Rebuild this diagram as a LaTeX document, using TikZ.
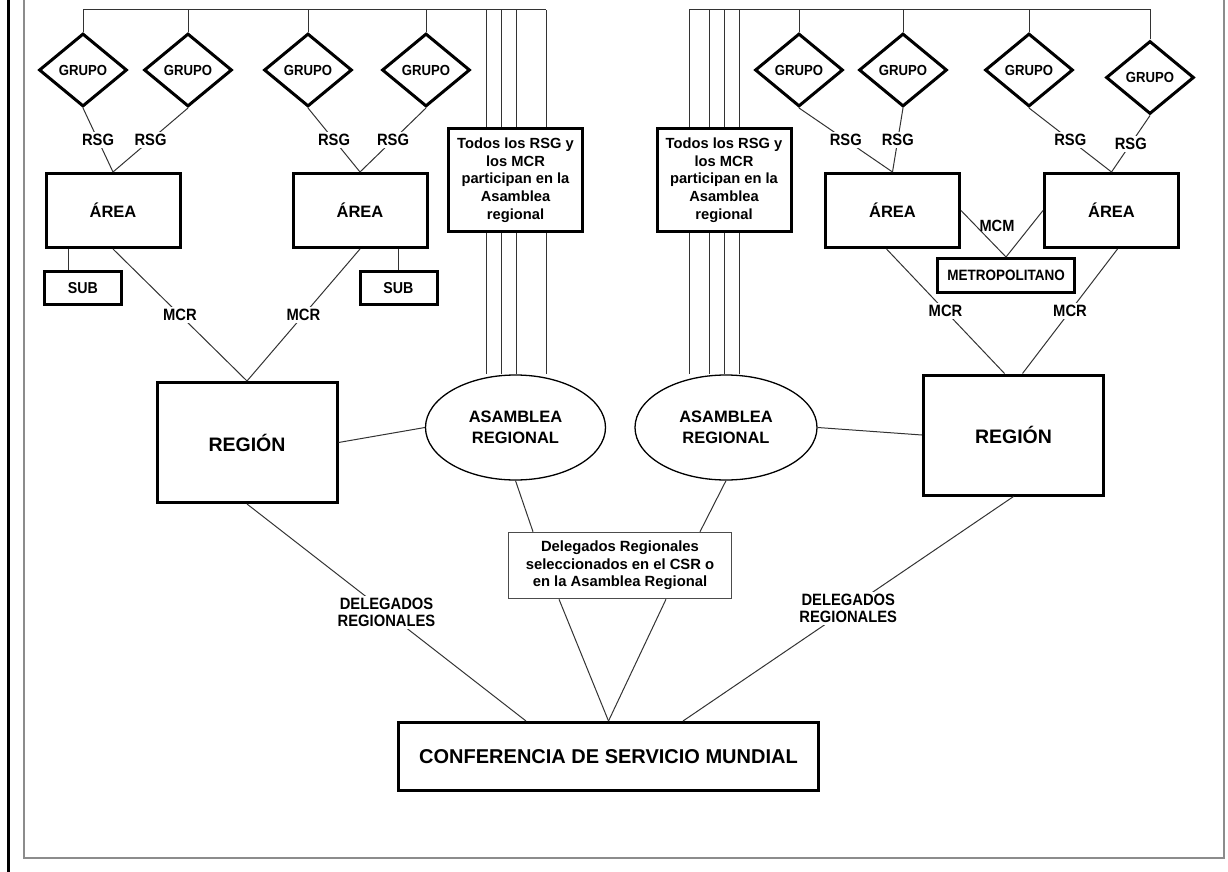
\documentclass[tikz,border=0pt]{standalone}
\usepackage{fontspec}
\setmainfont{Liberation Sans}
\newfontfamily\estrecha[FakeStretch=0.9]{Liberation Sans}
\usetikzlibrary{shapes.geometric}

\tikzset{
  grupo/.style={diamond, draw, line width=3pt, minimum width=88pt, minimum height=73pt,
    inner sep=0pt, fill=white, font=\estrecha\bfseries\fontsize{14.6}{16}\selectfont},
  caja/.style={rectangle, draw, line width=3pt, inner sep=0pt, fill=white, align=center},
  area/.style={caja, minimum width=134pt, minimum height=74pt, font=\bfseries\fontsize{16.5}{18}\selectfont},
  sub/.style={caja, minimum width=77pt, minimum height=33pt, font=\estrecha\bfseries\fontsize{15.8}{17}\selectfont},
  todos/.style={caja, minimum width=134pt, minimum height=103pt, font=\bfseries\fontsize{14.7}{17.7}\selectfont},
  region/.style={caja, minimum width=180pt, minimum height=120pt, font=\bfseries\fontsize{19.5}{22}\selectfont},
  asamblea/.style={ellipse, draw, line width=1.3pt, minimum width=180pt, minimum height=105pt,
    inner sep=0pt, fill=white, align=center, font=\bfseries\fontsize{16.5}{20.5}\selectfont},
  linea/.style={draw=black!80, line width=1pt},
  etiq/.style={fill=white, inner sep=2pt, align=center, font=\estrecha\bfseries\fontsize{16.4}{17}\selectfont},
}

\begin{document}
\begin{tikzpicture}[x=1pt,y=-1pt]
  \useasboundingbox (0,0) rectangle (1228,872);
  % page frame
  \draw[line width=3pt] (8,0) -- (8,872);
  \draw[black!45, line width=1.5pt] (24,0) -- (24,858) -- (1224,858) -- (1224,0);

  % left half
  \node[grupo] (g1) at (83,70) {GRUPO};
  \node[grupo] (g2) at (188,70) {GRUPO};
  \node[grupo] (g3) at (308,70) {GRUPO};
  \node[grupo] (g4) at (426,70) {GRUPO};
  \node[area] (a1) at (113,210.5) {ÁREA};
  \node[area] (a2) at (360,210.5) {ÁREA};
  \node[sub] (s1) at (83,288) {SUB};
  \node[sub] (s2) at (398.5,288) {SUB};
  \node[todos] (todos1) at (515.5,180) {Todos los RSG y\\los MCR\\participan en la\\Asamblea\\regional};
  \node[region] (reg1) at (247,442.5) {REGIÓN};
  \node[asamblea] (asam1) at (515.5,427.5) {ASAMBLEA\\REGIONAL};

  % right half
  \node[grupo] (g5) at (799,70) {GRUPO};
  \node[grupo] (g6) at (903,70) {GRUPO};
  \node[grupo] (g7) at (1029,70) {GRUPO};
  \node[grupo] (g8) at (1150,77.5) {GRUPO};
  \node[area] (a3) at (892.5,210.5) {ÁREA};
  \node[area] (a4) at (1111.5,210.5) {ÁREA};
  \node[caja, minimum width=137pt, minimum height=34pt, font=\estrecha\bfseries\fontsize{15}{16}\selectfont]
    (metro) at (1006,275.5) {METROPOLITANO};
  \node[todos] (todos2) at (724,180) {Todos los RSG y\\los MCR\\participan en la\\Asamblea\\regional};
  \node[region] (reg2) at (1013.5,435) {REGIÓN};
  \node[asamblea, minimum width=182pt] (asam2) at (726,427.5) {ASAMBLEA\\REGIONAL};

  % bottom
  \node[rectangle, draw=black!70, line width=1.5pt, minimum width=223pt, minimum height=66pt,
    inner sep=0pt, align=center, font=\bfseries\fontsize{14.8}{17.5}\selectfont]
    (dele) at (620,565.5) {Delegados Regionales\\seleccionados en el CSR o\\en la Asamblea Regional};
  \node[caja, minimum width=420pt, minimum height=68pt, font=\bfseries\fontsize{20}{24}\selectfont]
    (csm) at (608.5,756.5) {CONFERENCIA DE SERVICIO MUNDIAL};

  % buses on top
  \coordinate (busL) at (546,10);
  \coordinate (busR) at (689,10);
  \draw[linea] (g1.north) |- (busL);
  \foreach \g in {g2,g3,g4}
    \draw[linea] (\g.north) -- (\g.north |- busL);
  \draw[linea] (g8.north) |- (busR);
  \foreach \g in {g5,g6,g7}
    \draw[linea] (\g.north) -- (\g.north |- busR);
  \foreach \x [count=\i] in {486,501,516,546} {
    \coordinate (vl\i) at (\x,10);
    \draw[linea] (vl\i) -- (vl\i |- todos1.north);
    \draw[linea] (vl\i |- todos1.south) -- (vl\i |- asam1.north);
  }
  \foreach \x [count=\i] in {689,709,724,739} {
    \coordinate (vr\i) at (\x,10);
    \draw[linea] (vr\i) -- (vr\i |- todos2.north);
    \draw[linea] (vr\i |- todos2.south) -- (vr\i |- asam2.north);
  }

  % RSG
  \draw[linea] (g1.south) -- node[etiq] {RSG} (a1.north);
  \draw[linea] (g2.south) -- node[etiq] {RSG} (a1.north);
  \draw[linea] (g3.south) -- node[etiq] {RSG} (a2.north);
  \draw[linea] (g4.south) -- node[etiq] {RSG} (a2.north);
  \draw[linea] (g5.south) -- node[etiq] {RSG} (a3.north);
  \draw[linea] (g6.south) -- node[etiq] {RSG} (a3.north);
  \draw[linea] (g7.south) -- node[etiq] {RSG} (a4.north);
  \draw[linea] (g8.south) -- node[etiq] {RSG} (a4.north);

  % SUB and MCM
  \draw[linea] ([xshift=-15pt]s1.north) -- ([xshift=-15pt]s1.north |- a1.south);
  \draw[linea] (s2.north) -- (s2.north |- a2.south);
  \draw[linea] (a3.east) -- (metro.north);
  \draw[linea] (a4.west) -- (metro.north);
  \node[font=\estrecha\bfseries\fontsize{16.2}{17}\selectfont] (mcm) at (997,226) {MCM};

  % MCR
  \draw[linea] (a1.south) -- node[etiq] {MCR} (reg1.north);
  \draw[linea] (a2.south) -- node[etiq] {MCR} (reg1.north);
  \draw[linea] ([xshift=-6pt]a3.south) -- node[etiq] {MCR} ([xshift=-9pt]reg2.north);
  \draw[linea] ([xshift=6pt]a4.south) -- node[etiq] {MCR} ([xshift=9pt]reg2.north);

  % regions and assemblies
  \draw[linea] (reg1.east) -- (asam1.west);
  \draw[linea] (asam2.east) -- (reg2.west);
  \draw[linea] (asam1.south) -- ([xshift=-87pt]dele.north);
  \draw[linea] (asam2.south) -- ([xshift=80pt]dele.north);
  \draw[linea] ([xshift=-61pt]dele.south) -- (csm.north);
  \draw[linea] ([xshift=46pt]dele.south) -- (csm.north);
  \draw[linea] (reg1.south) -- node[etiq] {DELEGADOS\\REGIONALES} ([xshift=-82.5pt]csm.north);
  \draw[linea] (reg2.south) -- node[etiq] {DELEGADOS\\REGIONALES} ([xshift=74.5pt]csm.north);
\end{tikzpicture}
\end{document}
